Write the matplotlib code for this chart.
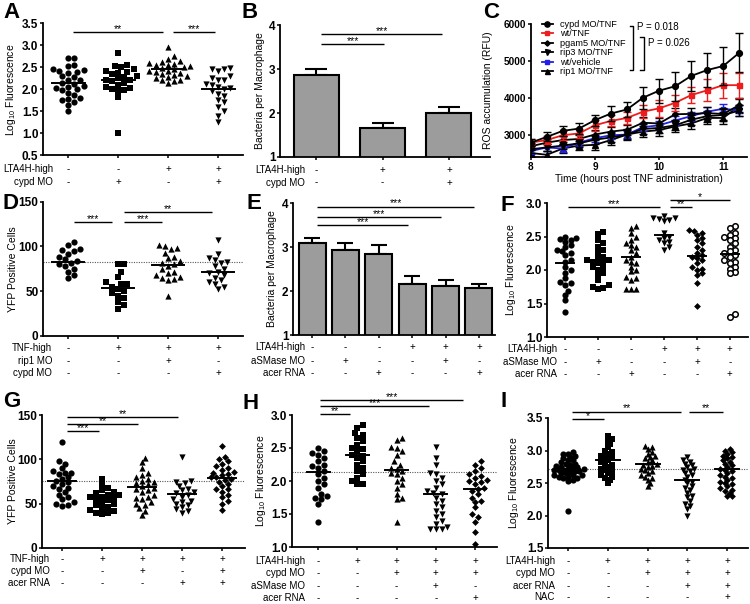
import numpy as np
import matplotlib
matplotlib.use('Agg')
import matplotlib.pyplot as plt
from matplotlib import transforms

plt.rcParams['font.family'] = ['Liberation Sans', 'DejaVu Sans']
plt.rcParams['mathtext.fontset'] = 'custom'
plt.rcParams['mathtext.rm'] = 'Liberation Sans'
plt.rcParams['mathtext.it'] = 'Liberation Sans:italic'
plt.rcParams['mathtext.bf'] = 'Liberation Sans:bold'

# ---------------- data ----------------
A_groups = [
    [2.72, 2.70, 2.55, 2.53, 2.45, 2.43, 2.42, 2.40, 2.38, 2.30, 2.28, 2.22, 2.20, 2.15,
     2.12, 2.08, 2.05, 2.02, 2.00, 1.98, 1.92, 1.88, 1.80, 1.78, 1.75, 1.72, 1.65, 1.50],
    [2.82, 2.55, 2.52, 2.50, 2.45, 2.42, 2.40, 2.38, 2.35, 2.30, 2.28, 2.25, 2.22, 2.20,
     2.18, 2.15, 2.10, 2.05, 2.02, 2.00, 1.98, 1.95, 1.82, 1.00],
    [2.95, 2.75, 2.68, 2.65, 2.62, 2.60, 2.58, 2.55, 2.55, 2.52, 2.50, 2.48, 2.45, 2.42,
     2.42, 2.40, 2.38, 2.35, 2.32, 2.30, 2.28, 2.25, 2.22, 2.20, 2.18, 2.15],
    [2.48, 2.45, 2.45, 2.42, 2.30, 2.25, 2.22, 2.20, 2.12, 2.10, 2.05, 2.02, 2.00, 1.95,
     1.90, 1.85, 1.75, 1.70, 1.60, 1.50, 1.40, 1.25],
]
A_means = [2.15, 2.21, 2.46, 2.01]

B_vals = [2.86, 1.65, 2.00]
B_err = [0.14, 0.12, 0.13]

C_time = [8.0, 8.25, 8.5, 8.75, 9.0, 9.25, 9.5, 9.75, 10.0, 10.25, 10.5, 10.75, 11.0, 11.25]
C_cypd = [2780, 2935, 3100, 3160, 3390, 3570, 3680, 4000, 4190, 4310, 4590, 4750, 4860, 5220]
C_cypd_err = [100, 120, 140, 140, 150, 200, 210, 300, 330, 390, 410, 470, 510, 530]
C_wt = [2780, 2850, 2980, 3030, 3250, 3370, 3450, 3620, 3710, 3860, 4070, 4200, 4340, 4340]
C_wt_err = [100, 110, 120, 130, 150, 150, 160, 180, 240, 210, 210, 300, 340, 340]
C_pgam5 = [2680, 2780, 2850, 2880, 3000, 3080, 3130, 3320, 3300, 3550, 3560, 3580, 3560, 3800]
C_pgam5_err = [100, 110, 120, 120, 130, 130, 140, 150, 150, 170, 170, 160, 160, 180]
C_rip3 = [2600, 2650, 2700, 2760, 2860, 2920, 3000, 3150, 3180, 3250, 3400, 3500, 3530, 3650]
C_rip3_err = [90, 100, 100, 110, 110, 120, 120, 130, 130, 140, 140, 150, 150, 160]
C_veh = [2550, 2650, 2620, 2780, 2900, 2980, 3000, 3200, 3250, 3380, 3500, 3620, 3700, 3650]
C_veh_err = [80, 90, 90, 100, 100, 100, 100, 110, 110, 120, 120, 130, 130, 140]
C_rip1 = [2500, 2450, 2620, 2700, 2720, 2850, 3000, 3080, 3120, 3220, 3300, 3450, 3450, 3780]
C_rip1_err = [100, 100, 110, 120, 130, 130, 140, 140, 150, 150, 160, 160, 170, 190]
C_labels = ['cypd MO/TNF', 'wt/TNF', 'pgam5 MO/TNF', 'rip3 MO/TNF', 'wt/vehicle', 'rip1 MO/TNF']

D_groups = [
    [105, 102, 97, 96, 95, 92, 88, 86, 84, 82, 80, 78, 75, 72, 68, 65],
    [80, 80, 72, 66, 60, 58, 58, 55, 52, 50, 48, 45, 42, 38, 35, 30],
    [102, 100, 98, 97, 93, 88, 87, 84, 82, 80, 78, 75, 72, 70, 68, 66, 65, 64, 62, 45],
    [107, 92, 87, 85, 83, 82, 78, 75, 72, 70, 68, 65, 62, 60, 58, 55, 52],
]
D_means = [83, 54, 79, 71]
D_ref = 83

E_vals = [3.08, 2.93, 2.85, 2.15, 2.12, 2.07]
E_err = [0.12, 0.15, 0.20, 0.20, 0.13, 0.10]

F_groups = [
    [2.50, 2.48, 2.47, 2.45, 2.42, 2.38, 2.35, 2.30, 2.28, 2.25, 2.22, 2.15, 2.12, 2.05,
     2.00, 1.95, 1.88, 1.82, 1.80, 1.78, 1.68, 1.62, 1.55, 1.38],
    [2.57, 2.53, 2.45, 2.40, 2.35, 2.30, 2.25, 2.20, 2.18, 2.15, 2.15, 2.12, 2.10, 2.10,
     2.05, 2.02, 2.00, 1.95, 1.92, 1.85, 1.78, 1.75, 1.73, 1.72],
    [2.65, 2.62, 2.55, 2.50, 2.45, 2.40, 2.38, 2.35, 2.30, 2.25, 2.20, 2.15, 2.12, 2.10,
     2.05, 2.00, 1.98, 1.90, 1.88, 1.85, 1.72, 1.72, 1.72],
    [2.80, 2.78, 2.78, 2.76, 2.74, 2.73, 2.55, 2.50, 2.48, 2.45, 2.42, 2.40, 2.35, 2.30],
    [2.60, 2.58, 2.55, 2.52, 2.48, 2.45, 2.40, 2.35, 2.30, 2.25, 2.22, 2.20, 2.18, 2.15,
     2.10, 2.05, 2.02, 2.00, 1.95, 1.92, 1.80, 1.47],
    [2.65, 2.62, 2.55, 2.52, 2.50, 2.48, 2.45, 2.40, 2.35, 2.30, 2.28, 2.25, 2.22, 2.20,
     2.15, 2.12, 2.10, 2.05, 2.02, 1.97, 1.95, 1.35, 1.30],
]
F_means = [2.11, 2.15, 2.20, 2.52, 2.21, 2.24]

G_groups = [
    [120, 98, 95, 90, 87, 85, 85, 83, 80, 78, 76, 74, 72, 70, 68, 66, 63, 60, 58, 55, 52, 50, 48, 47],
    [78, 72, 68, 65, 63, 62, 60, 60, 58, 57, 56, 55, 54, 52, 50, 48, 46, 45, 43, 42, 40, 39, 38],
    [102, 97, 90, 85, 82, 80, 78, 76, 75, 73, 72, 70, 68, 66, 65, 63, 60, 58, 56, 55, 52, 50,
     48, 45, 42, 37],
    [103, 76, 75, 73, 70, 67, 65, 63, 62, 60, 58, 55, 53, 52, 50, 48, 46, 44, 42, 40],
    [115, 103, 100, 98, 95, 92, 90, 88, 86, 85, 84, 82, 80, 80, 78, 77, 75, 72, 70, 67, 66,
     63, 60, 57, 53, 50, 43],
]
G_means = [76, 56, 69, 61, 79]
G_ref = 76

H_groups = [
    [2.50, 2.45, 2.42, 2.40, 2.35, 2.30, 2.25, 2.22, 2.20, 2.15, 2.10, 2.05, 2.00, 1.95,
     1.90, 1.80, 1.78, 1.75, 1.72, 1.65, 1.38],
    [2.85, 2.80, 2.72, 2.70, 2.65, 2.60, 2.55, 2.50, 2.48, 2.45, 2.40, 2.38, 2.35, 2.30,
     2.25, 2.20, 2.15, 2.10, 2.05, 2.00, 1.95, 1.95],
    [2.65, 2.62, 2.52, 2.50, 2.45, 2.40, 2.30, 2.25, 2.20, 2.18, 2.15, 2.12, 2.10, 2.05,
     2.00, 1.95, 1.90, 1.80, 1.75, 1.72, 1.38],
    [2.52, 2.35, 2.25, 2.12, 2.10, 2.05, 2.00, 1.95, 1.90, 1.85, 1.82, 1.80, 1.75, 1.70,
     1.65, 1.60, 1.55, 1.50, 1.45, 1.40, 1.35, 1.30, 1.28, 1.27, 1.27],
    [2.30, 2.25, 2.20, 2.15, 2.10, 2.08, 2.05, 2.02, 2.00, 1.98, 1.95, 1.90, 1.88, 1.85,
     1.80, 1.75, 1.70, 1.68, 1.60, 1.50, 1.45, 1.38, 1.22, 1.05],
]
H_means = [2.13, 2.40, 2.17, 1.80, 1.88]
H_ref = 2.13

I_groups = [
    [2.98, 2.95, 2.95, 2.92, 2.90, 2.88, 2.85, 2.85, 2.83, 2.80, 2.80, 2.78, 2.76, 2.75,
     2.75, 2.73, 2.72, 2.72, 2.70, 2.70, 2.70, 2.68, 2.68, 2.67, 2.65, 2.65, 2.63, 2.62,
     2.62, 2.60, 2.60, 2.58, 2.57, 2.55, 2.53, 2.07],
    [3.22, 3.18, 3.15, 3.10, 3.05, 3.00, 2.98, 2.95, 2.92, 2.90, 2.88, 2.85, 2.82, 2.80,
     2.78, 2.75, 2.72, 2.70, 2.68, 2.65, 2.62, 2.60, 2.58, 2.55, 2.50],
    [3.07, 3.05, 3.02, 2.98, 2.95, 2.92, 2.90, 2.88, 2.85, 2.83, 2.80, 2.78, 2.76, 2.75,
     2.72, 2.70, 2.68, 2.65, 2.62, 2.60, 2.58, 2.55, 2.50, 2.45],
    [2.90, 2.85, 2.83, 2.80, 2.78, 2.75, 2.72, 2.70, 2.68, 2.65, 2.62, 2.60, 2.55, 2.52,
     2.50, 2.45, 2.42, 2.40, 2.35, 2.30, 2.28, 2.22, 2.18, 2.15, 2.10, 2.00],
    [3.03, 3.00, 2.98, 2.95, 2.92, 2.90, 2.88, 2.85, 2.83, 2.80, 2.78, 2.75, 2.72, 2.70,
     2.68, 2.65, 2.62, 2.60, 2.58, 2.55, 2.52, 2.50, 2.48, 2.45, 2.42, 2.40, 2.38, 2.35,
     2.30, 2.30],
]
I_means = [2.71, 2.85, 2.79, 2.54, 2.71]
I_ref = 2.71

# ---------------- layout helpers ----------------
W, H = 750, 604
fig = plt.figure(figsize=(W / 100, H / 100), dpi=100)

CIRC = ('o', 20, True)
SQR = ('s', 15, True)
TUP = ('^', 20, True)
TDN = ('v', 20, True)
DIA = ('D', 12, True)
OCIRC = ('o', 16, False)


def make_ax(rect, xlim, ylim, yticks, fmt, fs=8.5):
    x0, y0, x1, y1 = rect
    ax = fig.add_axes([x0 / W, 1 - y1 / H, (x1 - x0) / W, (y1 - y0) / H])
    ax.set_xlim(xlim)
    ax.set_ylim(ylim)
    for s in ['top', 'right']:
        ax.spines[s].set_visible(False)
    for s in ['left', 'bottom']:
        ax.spines[s].set_linewidth(1.3)
    ax.set_yticks(yticks)
    ax.set_yticklabels([fmt.format(v) for v in yticks])
    ax.tick_params(width=1.1, length=2.5, pad=0.8, labelsize=fs)
    for t in ax.get_yticklabels():
        t.set_fontweight('bold')
    return ax


def ylabel(ax, text, x_right_px):
    ax.set_ylabel(text, fontsize=7.5)
    bb = ax.get_position()
    ax.yaxis.set_label_coords((x_right_px / W - bb.x0) / bb.width, 0.5)


def letter(s, x, y):
    fig.text(x / W, 1 - y / H, s, fontsize=16, fontweight='bold', va='top', ha='left')


def rows(ax, names, signs, ys_px, x_right_px, fs=7):
    blend = transforms.blended_transform_factory(ax.transData, fig.transFigure)
    for name, sg, y in zip(names, signs, ys_px):
        fig.text(x_right_px / W, 1 - y / H, name, ha='right', va='center', fontsize=fs)
        for j, c in enumerate(sg):
            ax.text(j, 1 - y / H, c, transform=blend, ha='center', va='center', fontsize=fs)


def sig(ax, items, fs=7.5):
    for x0, x1, y, stars in items:
        ax.plot([x0, x1], [y, y], color='k', lw=1.0, clip_on=False, solid_capstyle='butt')
        ax.text((x0 + x1) / 2, y, stars, ha='center', va='baseline', fontsize=fs)


def swarm(ax, vals, d, gap=0.9):
    (x0, x1), (y0, y1) = ax.get_xlim(), ax.get_ylim()
    sx = ax.bbox.width / (x1 - x0)
    sy = ax.bbox.height / (y1 - y0)
    px, py = [], []
    off = np.zeros(len(vals))
    for i in np.argsort(vals):
        y = vals[i] * sy
        for k in range(400):
            x = ((k + 1) // 2) * (1 if k % 2 else -1) * d * 0.5
            if all((x - a) ** 2 + (y - b) ** 2 >= (gap * d) ** 2 for a, b in zip(px, py)):
                break
        px.append(x)
        py.append(y)
        off[i] = x / sx
    return off


def dots(ax, groups, markers, means, mean_w, d=6.0, gap=0.9, ref=None):
    for j, (vals, (m, s, filled)) in enumerate(zip(groups, markers)):
        vals = np.asarray(vals, float)
        xs = j + swarm(ax, vals, d, gap)
        if filled:
            ax.scatter(xs, vals, s=s, marker=m, c='k', linewidths=0, zorder=3, clip_on=False)
        else:
            ax.scatter(xs, vals, s=s, marker=m, facecolors='white', edgecolors='k',
                       linewidths=1.1, zorder=3, clip_on=False)
        ax.plot([j - mean_w / 2, j + mean_w / 2], [means[j]] * 2, color='k', lw=1.4, zorder=4)
    if ref is not None:
        ax.axhline(ref, color='0.35', lw=0.8, ls=(0, (1, 1.2)), zorder=1)
    ax.set_xticks(range(len(groups)))
    ax.set_xticklabels([])


def bars(ax, vals, err, width, cap):
    x = np.arange(len(vals))
    ax.bar(x, vals, width=width, color='#9c9c9c', edgecolor='k', linewidth=1.5, zorder=2)
    ax.errorbar(x, vals, yerr=[np.zeros(len(vals)), err], fmt='none', ecolor='k',
                elinewidth=1.5, capsize=cap, capthick=1.5, zorder=1)
    ax.set_xticks(x)
    ax.set_xticklabels([])


# ---------------- A ----------------
axA = make_ax((43, 23.3, 243, 155.3), (-0.5, 3.5), (0.5, 3.5), [0.5, 1.0, 1.5, 2.0, 2.5, 3.0, 3.5], '{:.1f}')
dots(axA, A_groups, [CIRC, SQR, TUP, TDN], A_means, 0.66, d=6.2)
ylabel(axA, 'Log$_{10}$ Fluorescence', 18)
sig(axA, [(0.1, 1.9, 3.30, '**'), (2.1, 2.94, 3.30, '***')])
rows(axA, ['LTA4H-high', 'cypd MO'], ['--++', '-+-+'], [169, 182], 53)
letter('A', 3, 2)

# ---------------- B ----------------
axB = make_ax((280, 25, 490, 157), (-0.55, 2.62), (1, 4), [1, 2, 3, 4], '{:d}')
bars(axB, B_vals, B_err, 0.68, 8)
ylabel(axB, 'Bacteria per Macrophage', 265)
sig(axB, [(0.07, 1.02, 3.57, '***'), (0.07, 1.9, 3.80, '***')])
rows(axB, ['LTA4H-high', 'cypd MO'], ['-++', '--+'], [170, 182.5], 305)
letter('B', 241, 2)

# ---------------- C ----------------
axC = make_ax((530.7, 24, 747, 157), (8, 11.37), (2390, 6000), [3000, 4000, 5000, 6000], '{:d}', fs=7.2)
axC.set_xticks([8, 9, 10, 11])
axC.set_xticklabels(['8', '9', '10', '11'], fontweight='bold', fontsize=7.2)
c_series = [
    (C_cypd, C_cypd_err, 'k', 'o', 4.2),
    (C_wt, C_wt_err, '#ee1c1c', 's', 3.6),
    (C_pgam5, C_pgam5_err, 'k', 'D', 3.0),
    (C_rip3, C_rip3_err, 'k', 'v', 4.0),
    (C_veh, C_veh_err, '#2020e6', 's', 3.2),
    (C_rip1, C_rip1_err, 'k', '^', 4.0),
]
handles = []
for (vals, err, col, m, ms), lab in zip(c_series[::-1], C_labels[::-1]):
    axC.errorbar(C_time, vals, yerr=err, fmt='none', ecolor=col, elinewidth=1.0,
                 capsize=2.6, capthick=1.0)
    h, = axC.plot(C_time, vals, color=col, marker=m, ms=ms, lw=1.3, mec=col, label=lab)
    handles.append(h)
axC.legend(handles[::-1], C_labels, loc='upper left', bbox_to_anchor=(0.05, 1.03),
           frameon=False, fontsize=6.6, labelspacing=0.05, handlelength=1.3,
           handletextpad=0.7, borderpad=0, borderaxespad=0, markerscale=0.9)
axC.set_xlabel('Time (hours post TNF administration)', fontsize=7.3, labelpad=1.5)
ylabel(axC, 'ROS accumulation (RFU)', 493)
for xb, ytop, ybot, txt, ytxt in [(9.59, 5946, 4749, 'P = 0.018', 5920), (9.76, 5650, 4749, 'P = 0.026', 5480)]:
    axC.plot([xb - 0.05, xb, xb, xb - 0.05], [ytop, ytop, ybot, ybot], color='k', lw=1.0, clip_on=False)
    axC.text(xb + 0.07, ytxt, txt, fontsize=7, va='center', ha='left')
letter('C', 483, 2)

# ---------------- D ----------------
axD = make_ax((43, 201.7, 243, 336), (-0.5, 3.5), (0, 150), [0, 50, 100, 150], '{:d}')
dots(axD, D_groups, [CIRC, SQR, TUP, TDN], D_means, 0.63, d=6.2, ref=D_ref)
ylabel(axD, 'YFP Positive Cells', 18)
sig(axD, [(0.12, 0.88, 127, '***'), (1.12, 1.88, 127, '***'), (1.12, 2.88, 138.5, '**')])
rows(axD, ['TNF-high', 'rip1 MO', 'cypd MO'], ['-+++', '--+-', '---+'], [348, 361, 373], 52)
letter('D', 3, 193)

# ---------------- E ----------------
axE = make_ax((293, 203, 495, 335), (-0.57, 5.48), (1, 4), [1, 2, 3, 4], '{:d}')
bars(axE, E_vals, E_err, 0.81, 5.5)
ylabel(axE, 'Bacteria per Macrophage', 277)
sig(axE, [(0.15, 2.88, 3.50, '***'), (0.15, 3.85, 3.69, '***'), (0.15, 4.85, 3.92, '***')])
rows(axE, ['LTA4H-high', 'aSMase MO', 'acer RNA'], ['---+++', '-+--+-', '--+--+'], [347, 361, 373], 305)
letter('E', 247, 193)

# ---------------- F ----------------
axF = make_ax((547, 203, 748, 337), (-0.55, 5.55), (1.0, 3.0), [1.0, 1.5, 2.0, 2.5, 3.0], '{:.1f}')
dots(axF, F_groups, [CIRC, SQR, TUP, TDN, DIA, OCIRC], F_means, 0.55, d=5.4, gap=0.85)
ylabel(axF, 'Log$_{10}$ Fluorescence', 518)
sig(axF, [(0.09, 2.88, 2.94, '***'), (3.18, 3.85, 2.94, '**'), (3.18, 5.0, 3.04, '*')])
rows(axF, ['LTA4H-high', 'aSMase MO', 'acer RNA'], ['---+++', '-+--+-', '--+--+'], [349, 362, 374], 557)
letter('F', 500, 195)

# ---------------- G ----------------
axG = make_ax((42, 415, 245, 548), (-0.5, 4.57), (0, 150), [0, 50, 100, 150], '{:d}')
dots(axG, G_groups, [CIRC, SQR, TUP, TDN, DIA], G_means, 0.7, d=5.8, ref=G_ref)
ylabel(axG, 'YFP Positive Cells', 18)
sig(axG, [(0.12, 0.92, 132, '***'), (0.12, 1.9, 140, '**'), (0.12, 2.9, 148, '**')])
rows(axG, ['TNF-high', 'cypd MO', 'acer RNA'], ['-++++', '--+-+', '---++'], [559, 571, 583], 50)
letter('G', 3, 391)

# ---------------- H ----------------
axH = make_ax((292, 415, 497, 547), (-0.67, 4.56), (1.0, 3.0), [1.0, 1.5, 2.0, 2.5, 3.0], '{:.1f}')
dots(axH, H_groups, [CIRC, SQR, TUP, TDN, DIA], H_means, 0.58, d=5.8, ref=H_ref)
ylabel(axH, 'Log$_{10}$ Fluorescence', 268)
sig(axH, [(0.05, 0.82, 3.02, '**'), (0.05, 2.83, 3.14, '***'), (0.05, 3.7, 3.22, '***')])
rows(axH, ['LTA4H-high', 'cypd MO', 'aSMase MO', 'acer RNA'],
     ['-++++', '--+++', '---+-', '----+'], [561, 573, 586, 598], 305)
letter('H', 243, 393)

# ---------------- I ----------------
axI = make_ax((548, 418, 748, 548), (-0.5, 4.52), (1.5, 3.5), [1.5, 2.0, 2.5, 3.0, 3.5], '{:.1f}')
dots(axI, I_groups, [CIRC, SQR, TUP, TDN, DIA], I_means, 0.6, d=4.6, gap=0.85, ref=I_ref)
ylabel(axI, 'Log$_{10}$ Fluorescence', 521)
sig(axI, [(0.1, 0.9, 3.48, '*'), (0.1, 2.85, 3.60, '**'), (3.05, 3.88, 3.60, '**')])
rows(axI, ['LTA4H-high', 'cypd MO', 'acer RNA', 'NAC'],
     ['-++++', '--+++', '---++', '----+'], [561, 573, 586, 597], 555)
letter('I', 500, 391)

fig.savefig('out.png', dpi=100)
